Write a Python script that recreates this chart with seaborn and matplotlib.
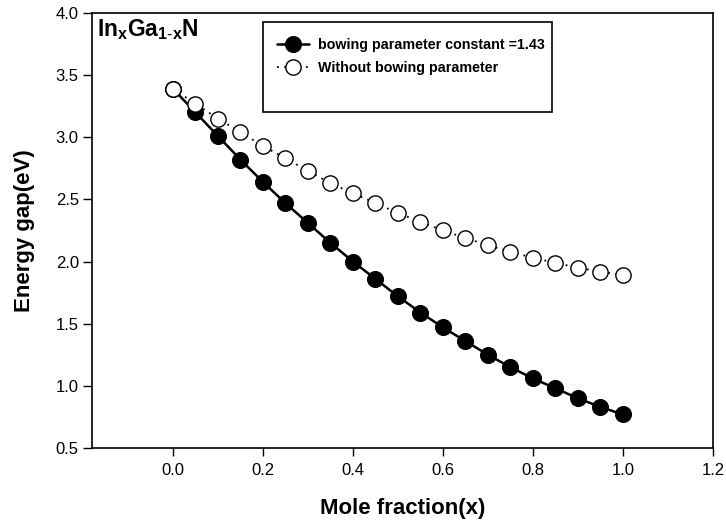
import matplotlib
matplotlib.use("Agg")
import matplotlib.pyplot as plt
import seaborn as sns
import pandas as pd
from matplotlib.patches import Rectangle

mole_fraction = [0.00, 0.05, 0.10, 0.15, 0.20, 0.25, 0.30, 0.35, 0.40, 0.45, 0.50,
                 0.55, 0.60, 0.65, 0.70, 0.75, 0.80, 0.85, 0.90, 0.95, 1.00]
with_bowing = [3.39, 3.20, 3.01, 2.82, 2.64, 2.47, 2.31, 2.15, 2.00, 1.86, 1.72,
               1.59, 1.47, 1.36, 1.25, 1.15, 1.06, 0.98, 0.90, 0.83, 0.77]
without_bowing = [3.39, 3.27, 3.15, 3.04, 2.93, 2.83, 2.73, 2.63, 2.55, 2.47, 2.39,
                  2.32, 2.25, 2.19, 2.13, 2.08, 2.03, 1.99, 1.95, 1.92, 1.89]
label_bow = "bowing parameter constant =1.43"
label_nobow = "Without bowing parameter"
x_ticks = [0.0, 0.2, 0.4, 0.6, 0.8, 1.0, 1.2]
y_ticks = [0.5, 1.0, 1.5, 2.0, 2.5, 3.0, 3.5, 4.0]

sns.set_style("ticks")
plt.rcParams['font.family'] = ['Liberation Sans', 'DejaVu Sans']
plt.rcParams['mathtext.fontset'] = 'custom'
plt.rcParams['mathtext.rm'] = 'Liberation Sans'
plt.rcParams['mathtext.bf'] = 'Liberation Sans:bold'
plt.rcParams['mathtext.it'] = 'Liberation Sans:italic'
for k in ['text.color', 'axes.labelcolor', 'xtick.color', 'ytick.color', 'axes.edgecolor']:
    plt.rcParams[k] = 'black'

df = pd.DataFrame({"x": mole_fraction, "bow": with_bowing, "nobow": without_bowing})

fig = plt.figure(figsize=(7.26, 5.28), dpi=100)
ax = fig.add_axes([0.1267, 0.1515, 0.8553, 0.8239])

sns.lineplot(data=df, x="x", y="bow", ax=ax, color="black", linewidth=1.8,
             marker="o", markersize=11.5, markerfacecolor="black",
             markeredgecolor="black", label=label_bow)
sns.lineplot(data=df, x="x", y="nobow", ax=ax, color="black", linewidth=1.3,
             linestyle=(0, (1, 3)), marker="o", markersize=11, markerfacecolor="white",
             markeredgecolor="black", markeredgewidth=1.0, label=label_nobow)

ax.set_xlim(-0.18, 1.2)
ax.set_ylim(0.5, 4.0)
ax.set_xticks(x_ticks)
ax.set_yticks(y_ticks)
ax.set_xticklabels([f"{v:.1f}" for v in x_ticks], fontsize=12)
ax.set_yticklabels([f"{v:.1f}" for v in y_ticks], fontsize=12)
ax.tick_params(direction="out", length=6, width=1, pad=5, axis="x", colors="black")
ax.tick_params(direction="out", length=6.5, width=1, pad=3, axis="y", colors="black")
for s in ax.spines.values():
    s.set_visible(True)
    s.set_linewidth(1.2)
    s.set_color("black")

ax.set_xlabel("Mole fraction(x)", fontsize=16, fontweight="bold", labelpad=14, color="black")
ax.set_ylabel("Energy gap(eV)", fontsize=16, fontweight="bold", labelpad=15, color="black")

ax.text(0.008, 0.99, r"$\mathbf{In_{x}Ga_{1\text{-}x}N}$", transform=ax.transAxes,
        ha="left", va="top", fontsize=16.5, color="black")

ax.add_patch(Rectangle((0.275, 0.772), 0.466, 0.207, transform=ax.transAxes,
                       fill=False, edgecolor="black", linewidth=1.2, zorder=5))
leg = ax.legend(loc="upper left", bbox_to_anchor=(0.278, 0.972), frameon=False,
                prop={"weight": "bold", "size": 10.3}, handlelength=2.2,
                handletextpad=0.6, labelspacing=0.6)
for t in leg.get_texts():
    t.set_color("black")

fig.savefig("out.png", dpi=100)
